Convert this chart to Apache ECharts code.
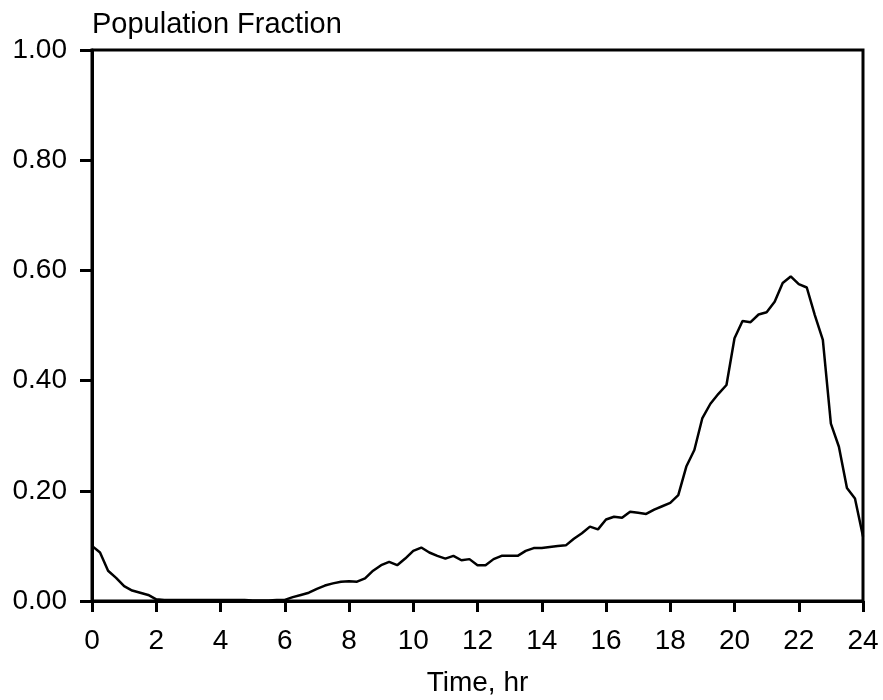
<!DOCTYPE html>
<html>
<head>
<meta charset="utf-8">
<script src="https://cdn.jsdelivr.net/npm/echarts@6/dist/echarts.min.js"></script>
<style>
html,body{margin:0;padding:0;background:#fff;}
#chart{width:883px;height:700px;}
</style>
</head>
<body>
<div id="chart"></div>
<script>
// Time (hr), sampled every 15 minutes
const timeHr = [
  0,0.25,0.5,0.75,1,1.25,1.5,1.75,2,2.25,2.5,2.75,3,3.25,3.5,3.75,4,4.25,4.5,4.75,
  5,5.25,5.5,5.75,6,6.25,6.5,6.75,7,7.25,7.5,7.75,8,8.25,8.5,8.75,9,9.25,9.5,9.75,
  10,10.25,10.5,10.75,11,11.25,11.5,11.75,12,12.25,12.5,12.75,13,13.25,13.5,13.75,
  14,14.25,14.5,14.75,15,15.25,15.5,15.75,16,16.25,16.5,16.75,17,17.25,17.5,17.75,
  18,18.25,18.5,18.75,19,19.25,19.5,19.75,20,20.25,20.5,20.75,21,21.25,21.5,21.75,
  22,22.25,22.5,22.75,23,23.25,23.5,23.75,24
];
// Population fraction
const populationFraction = [
  0.100,0.088,0.055,0.042,0.027,0.019,0.015,0.011,0.003,0.002,0.002,0.002,0.002,0.002,0.002,0.002,0.002,0.002,0.002,0.002,
  0.001,0.001,0.001,0.002,0.002,0.007,0.011,0.015,0.022,0.028,0.032,0.035,0.036,0.035,0.041,0.055,0.065,0.071,0.065,0.077,
  0.091,0.097,0.088,0.082,0.077,0.082,0.074,0.076,0.065,0.065,0.076,0.082,0.082,0.082,0.091,0.096,
  0.096,0.098,0.100,0.101,0.113,0.123,0.135,0.130,0.148,0.153,0.151,0.162,0.160,0.158,0.166,0.172,
  0.178,0.192,0.244,0.274,0.332,0.358,0.376,0.392,0.477,0.508,0.506,0.520,0.524,0.543,0.577,0.589,
  0.575,0.569,0.519,0.474,0.322,0.280,0.205,0.186,0.117
];
const xTicks = [0,2,4,6,8,10,12,14,16,18,20,22,24];
const yTicks = ['0.00','0.20','0.40','0.60','0.80','1.00'];

const FONT = 'Liberation Sans, Arial, Helvetica, sans-serif';
const chart = echarts.init(document.getElementById('chart'), null, {renderer:'canvas'});
chart.setOption({
  animation: false,
  backgroundColor: '#fff',
  title: {
    text: 'Population Fraction',
    left: 87, top: 5,
    textStyle: {fontFamily: FONT, fontSize: 29, fontWeight: 'normal', color: '#000'}
  },
  grid: {
    left: 92, right: 20, top: 50, bottom: 99,
    outerBoundsMode: 'none',
    containLabel: false,
    show: true, borderColor: '#000', borderWidth: 3, backgroundColor: 'transparent'
  },
  xAxis: {
    type: 'value', min: xTicks[0], max: xTicks[xTicks.length-1], interval: 2,
    name: 'Time, hr', nameLocation: 'middle', nameGap: 68,
    nameTextStyle: {fontFamily: FONT, fontSize: 28, color: '#000'},
    axisLine: {show: true, lineStyle: {color: '#000', width: 3}},
    axisTick: {show: true, length: 11, lineStyle: {color: '#000', width: 3}},
    axisLabel: {fontFamily: FONT, fontSize: 28, color: '#000', margin: 26,
      formatter: v => String(v)},
    splitLine: {show: false}
  },
  yAxis: {
    type: 'value', min: 0, max: 1, interval: 0.2,
    axisLine: {show: true, lineStyle: {color: '#000', width: 3}},
    axisTick: {show: true, length: 12, lineStyle: {color: '#000', width: 3}},
    axisLabel: {fontFamily: FONT, fontSize: 28, color: '#000', margin: 25,
      formatter: v => yTicks[Math.round(v/0.2)]},
    splitLine: {show: false}
  },
  series: [{
    type: 'line',
    data: timeHr.map((t,i) => [t, populationFraction[i]]),
    showSymbol: false,
    smooth: false,
    lineStyle: {color: '#000', width: 2.5},
    clip: true
  }]
});
</script>
</body>
</html>
